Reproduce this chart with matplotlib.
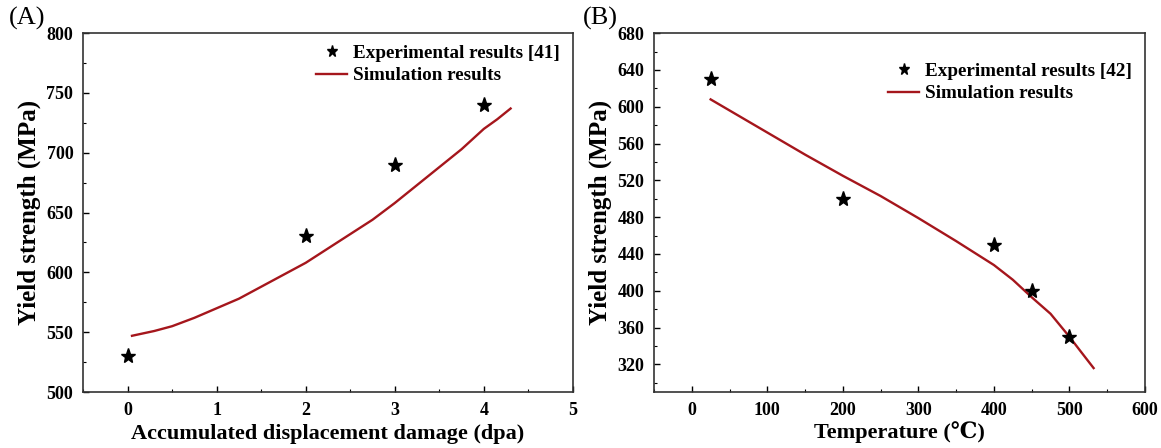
import matplotlib
matplotlib.use("Agg")
import matplotlib.pyplot as plt
from matplotlib.ticker import MultipleLocator

# Panel A data
dpa_exp = [0, 2, 3, 4]
ys_exp_a = [530, 630, 690, 740]
dpa_sim = [0.05, 0.3, 0.5, 0.75, 1.0, 1.25, 1.5, 1.75, 2.0, 2.25, 2.5, 2.75, 3.0, 3.25, 3.5, 3.75, 4.0, 4.15, 4.3]
ys_sim_a = [547, 551, 555, 562, 570, 578, 588, 598, 608, 620, 632, 644, 658, 673, 688, 703, 720, 728, 737]

# Panel B data
temp_exp = [25, 200, 400, 450, 500]
ys_exp_b = [630, 500, 450, 400, 350]
temp_sim = [25, 50, 100, 150, 200, 250, 300, 350, 400, 425, 450, 475, 500, 515, 532]
ys_sim_b = [608, 596, 572, 548, 525, 503, 479, 454, 428, 412, 393, 375, 350, 334, 316]

plt.rcParams['font.family'] = ['Liberation Serif', 'DejaVu Serif']
red = '#a5161c'

fig = plt.figure(figsize=(11.61, 4.48), dpi=100)
axA = fig.add_axes([0.0715, 0.125, 0.422, 0.801])
axB = fig.add_axes([0.5633, 0.125, 0.4229, 0.801])


def style(ax):
    for s in ax.spines.values():
        s.set_linewidth(1.2)
        s.set_color('#333333')
    ax.tick_params(which='both', direction='in', top=False, right=False)
    ax.tick_params(which='major', length=4, width=1, labelsize=13, pad=7)
    ax.tick_params(which='minor', length=2.5, width=0.8)
    for lab in ax.get_xticklabels() + ax.get_yticklabels():
        lab.set_fontweight('bold')


leg_kw = dict(loc='upper right', frameon=False, prop={'weight': 'bold', 'size': 13.8},
              handlelength=1.6, handletextpad=0.3, labelspacing=0.25, borderaxespad=0.3)

axA.plot(dpa_sim, ys_sim_a, color=red, lw=1.7, label='Simulation results')
axA.plot(dpa_exp, ys_exp_a, ls='none', marker='*', ms=11, color='black',
         label='Experimental results [41]')
axA.set_xlim(-0.5, 5)
axA.set_ylim(500, 800)
axA.xaxis.set_major_locator(MultipleLocator(1))
axA.xaxis.set_minor_locator(MultipleLocator(0.5))
axA.yaxis.set_major_locator(MultipleLocator(50))
axA.yaxis.set_minor_locator(MultipleLocator(25))
axA.set_xlabel('Accumulated displacement damage (dpa)', fontsize=16, fontweight='bold', labelpad=4)
axA.set_ylabel('Yield strength (MPa)', fontsize=18, fontweight='bold', labelpad=4)
style(axA)
h, l = axA.get_legend_handles_labels()
axA.legend(h[::-1], l[::-1], bbox_to_anchor=(1.0, 1.005), markerscale=0.75, **leg_kw)
fig.text(0.008, 0.985, '(A)', fontsize=19, va='top')

axB.plot(temp_sim, ys_sim_b, color=red, lw=1.7, label='Simulation results')
axB.plot(temp_exp, ys_exp_b, ls='none', marker='*', ms=11, color='black',
         label='Experimental results [42]')
axB.set_xlim(-50, 600)
axB.set_ylim(290, 680)
axB.xaxis.set_major_locator(MultipleLocator(100))
axB.xaxis.set_minor_locator(MultipleLocator(50))
axB.yaxis.set_major_locator(MultipleLocator(40))
axB.yaxis.set_minor_locator(MultipleLocator(20))
axB.set_xlabel('Temperature (℃)', fontsize=16, fontweight='bold', labelpad=2)
axB.set_ylabel('Yield strength (MPa)', fontsize=18, fontweight='bold', labelpad=4)
style(axB)
h, l = axB.get_legend_handles_labels()
axB.legend(h[::-1], l[::-1], bbox_to_anchor=(1.0, 0.955), markerscale=0.75, **leg_kw)
fig.text(0.502, 0.985, '(B)', fontsize=19, va='top')

fig.savefig('out.png', dpi=100)
